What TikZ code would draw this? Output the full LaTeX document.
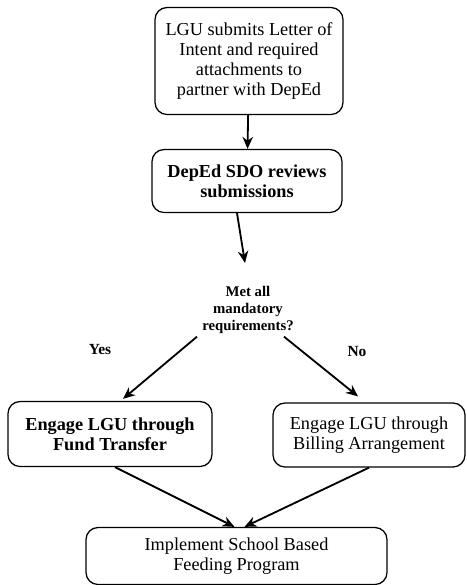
\documentclass[tikz,border=0pt]{standalone}
\usepackage{fontspec}
\setmainfont{Liberation Serif}
\usepackage{tikz}
\usetikzlibrary{arrows.meta, positioning}

\begin{document}
\begin{tikzpicture}[
    stepbox/.style={draw, line width=0.9pt, rounded corners=0.3cm, align=center, font=\fontsize{13}{14}\selectfont, inner sep=2pt},
    decision/.style={align=center, font=\fontsize{10.5}{12}\selectfont\bfseries, inner sep=2pt},
    branch/.style={font=\fontsize{11}{12}\selectfont\bfseries, inner sep=0pt},
    arrow/.style={-{Stealth[length=3mm, width=2.6mm]}, line width=1.3pt}
]
\useasboundingbox (0,0) rectangle (11.65,-14.625);

\node (letter) [stepbox, minimum width=4.7cm, minimum height=2.675cm] at (6.225,-1.525)
    {LGU submits Letter of \\ Intent and required \\ attachments to \\ partner with DepEd};
\node (review) [stepbox, minimum width=4.75cm, minimum height=1.575cm] at (6.175,-4.525)
    {\textbf{DepEd SDO reviews} \\ \textbf{submissions}};
\node (check) [decision] at (6.2,-7.75) {Met all \\ mandatory \\ requirements?};
\coordinate (checktop) at (6.125,-6.575);

\node (fund) [stepbox, minimum width=5.1cm, minimum height=1.625cm] at (2.75,-10.85)
    {\textbf{Engage LGU through} \\ \textbf{Fund Transfer}};
\node (billing) [stepbox, minimum width=4.8cm, minimum height=1.6cm] at (9.225,-10.875)
    {Engage LGU through \\ Billing Arrangement};
\node (sbfp) [stepbox, minimum width=7.525cm, minimum height=1.425cm] at (5.9125,-13.9)
    {Implement School Based \\ Feeding Program};

\node (yes) [branch] at (2.5,-8.75) {Yes};
\node (no) [branch] at (8.925,-8.8) {No};

\draw[arrow] (letter) -- (review);
\draw[arrow] ([xshift=-0.25cm]review.south) -- (checktop);
\draw[arrow] ([xshift=-1.275cm]check.south) -- ([xshift=0.325cm, yshift=0.05cm]fund.north);
\draw[arrow] ([xshift=0.9cm]check.south) -- ([xshift=-0.275cm, yshift=0.15cm]billing.north);
\draw[arrow] ([xshift=0.125cm]fund.south) -- ([xshift=-0.05cm]sbfp.north);
\draw[arrow] (billing.south) -- ([xshift=0.2cm]sbfp.north);
\end{tikzpicture}
\end{document}
